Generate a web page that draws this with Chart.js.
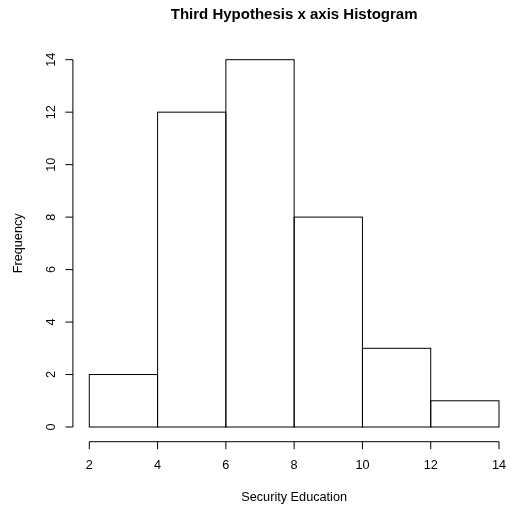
<!DOCTYPE html>
<html>
<head>
<meta charset="utf-8">
<title>Third Hypothesis x axis Histogram</title>
<script src="https://cdn.jsdelivr.net/npm/chart.js@4.4.1/dist/chart.umd.min.js"></script>
<style>
  html, body { margin: 0; padding: 0; background: #fff; overflow: hidden; }
  canvas { display: block; }
</style>
</head>
<body>
<!-- plot region runs a few pixels past the right edge of the window -->
<canvas id="histChart" width="516" height="508"></canvas>
<script>
// Histogram bins (left edges) and counts
const binStarts = [2, 4, 6, 8, 10, 12];
const binWidth = 2;
const frequencies = [2, 12, 14, 8, 3, 1];

// Axis ticks
const xTicks = [2, 4, 6, 8, 10, 12, 14];
const yTicks = [0, 2, 4, 6, 8, 10, 12, 14];

const mainTitle = 'Third Hypothesis x axis Histogram';
const xTitle = 'Security Education';
const yTitle = 'Frequency';

const FONT = '"Liberation Sans", Arial, Helvetica, sans-serif';

// base-R style: data range padded by 4% on each side
const xSpan = xTicks[xTicks.length - 1] - xTicks[0];
const ySpan = yTicks[yTicks.length - 1] - yTicks[0];
const xLo = xTicks[0] - 0.04 * xSpan;
const xHi = xTicks[xTicks.length - 1] + 0.04 * xSpan;
const yLo = yTicks[0] - 0.04 * ySpan;
const yHi = yTicks[yTicks.length - 1] + 0.04 * ySpan;

// Draws bar outlines and the detached R-like axes and titles
const rAxes = {
  id: 'rAxes',
  afterDatasetsDraw(chart) {
    const {ctx, chartArea, scales: {x, y}} = chart;
    const tick = 7.5;
    ctx.save();
    ctx.strokeStyle = '#000';
    ctx.fillStyle = '#000';
    ctx.lineWidth = 1;

    // bar outlines (single line on shared edges)
    chart.getDatasetMeta(0).data.forEach(bar => {
      const p = bar.getProps(['x', 'y', 'base', 'width'], true);
      ctx.strokeRect(p.x - p.width / 2, p.y, p.width, p.base - p.y);
    });

    // x axis
    const xb = chartArea.bottom;
    ctx.beginPath();
    ctx.moveTo(x.getPixelForValue(xTicks[0]), xb);
    ctx.lineTo(x.getPixelForValue(xTicks[xTicks.length - 1]), xb);
    xTicks.forEach(v => {
      const px = x.getPixelForValue(v);
      ctx.moveTo(px, xb);
      ctx.lineTo(px, xb + tick);
    });
    ctx.stroke();
    ctx.font = '12.7px ' + FONT;
    ctx.textAlign = 'center';
    ctx.textBaseline = 'alphabetic';
    xTicks.forEach(v => ctx.fillText(String(v), x.getPixelForValue(v), xb + 27.3));

    // y axis
    const yl = chartArea.left;
    ctx.beginPath();
    ctx.moveTo(yl, y.getPixelForValue(yTicks[0]));
    ctx.lineTo(yl, y.getPixelForValue(yTicks[yTicks.length - 1]));
    yTicks.forEach(v => {
      const py = y.getPixelForValue(v);
      ctx.moveTo(yl, py);
      ctx.lineTo(yl - tick, py);
    });
    ctx.stroke();
    yTicks.forEach(v => {
      ctx.save();
      ctx.translate(yl - 18.4, y.getPixelForValue(v));
      ctx.rotate(-Math.PI / 2);
      ctx.fillText(String(v), 0, 0);
      ctx.restore();
    });

    // titles, centred on the plot region
    const cx = (chartArea.left + chartArea.right) / 2;
    const cy = (chartArea.top + chartArea.bottom) / 2;
    ctx.fillText(xTitle, cx, xb + 59.3);
    ctx.save();
    ctx.translate(yl - 51, cy);
    ctx.rotate(-Math.PI / 2);
    ctx.fillText(yTitle, 0, 0);
    ctx.restore();
    ctx.font = 'bold 15px ' + FONT;
    ctx.fillText(mainTitle, cx, 19.3);
    ctx.restore();
  }
};

new Chart(document.getElementById('histChart'), {
  type: 'bar',
  data: {
    datasets: [{
      label: yTitle,
      data: binStarts.map((s, i) => ({x: s + binWidth / 2, y: frequencies[i]})),
      backgroundColor: 'rgba(0,0,0,0)',
      borderWidth: 0,
      barPercentage: 1,
      categoryPercentage: 1
    }]
  },
  options: {
    responsive: false,
    animation: false,
    devicePixelRatio: 1,
    layout: {padding: {left: 72.9, right: 0.6, top: 45, bottom: 66.3}},
    plugins: {legend: {display: false}, tooltip: {enabled: false}, title: {display: false}},
    scales: {
      x: {type: 'linear', min: xLo, max: xHi, offset: false, display: false},
      y: {type: 'linear', min: yLo, max: yHi, display: false}
    }
  },
  plugins: [rAxes]
});
</script>
</body>
</html>
